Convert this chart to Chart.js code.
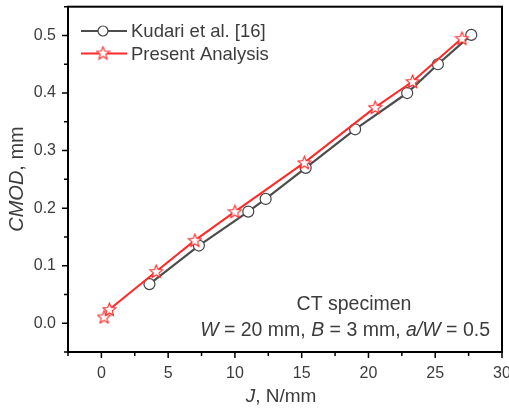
<!DOCTYPE html>
<html>
<head>
<meta charset="utf-8">
<script src="https://cdn.jsdelivr.net/npm/chart.js@4"></script>
<style>
  body{margin:0;background:#fff;}
  canvas{display:block;}
</style>
</head>
<body>
<canvas id="myChart" width="509" height="412"></canvas>
<script>
// data
const kudariJ    = [3.6, 7.3, 11.0, 12.3, 15.3, 19.0, 22.9, 25.2, 27.7];
const kudariCmod = [0.068, 0.135, 0.194, 0.216, 0.270, 0.337, 0.400, 0.450, 0.501];
const presentJ    = [0.2, 0.6, 4.1, 7.0, 10.0, 15.2, 20.5, 23.3, 27.0];
const presentCmod = [0.011, 0.024, 0.090, 0.144, 0.194, 0.279, 0.375, 0.420, 0.495];
const seriesNames = ["Kudari et al. [16]", "Present Analysis"];
const noteLine1 = "CT specimen";
const noteLine2 = [["W", true], [" = 20 mm, ", false], ["B", true], [" = 3 mm, ", false], ["a/W", true], [" = 0.5", false]];
const xTitle = [["J", true], [", N/mm", false]];
const yTitle = [["CMOD", true], [", mm", false]];

const txtCol = "#3c3c3c";
const fam = "'Liberation Sans', Arial, sans-serif";

// open star marker
const starImg = (()=>{
    var c=document.createElement('canvas');
    c.width=15; c.height=15;
    var g=c.getContext('2d');
    g.beginPath();
    for(var i=0;i<10;i++){
        var r=(i%2==0)?6.8:3.0;
        var a=-Math.PI/2+i*Math.PI/5;
        var px=7.5+r*Math.cos(a), py=8+r*Math.sin(a);
        if(i==0) g.moveTo(px,py); else g.lineTo(px,py);
    }
    g.closePath();
    g.fillStyle="#fff"; g.fill();
    g.strokeStyle="#ff2a2a"; g.lineWidth=1.1; g.stroke();
    return c;
})();

const toPts=(xs,ys)=>xs.map((x,i)=>({x:x,y:ys[i]}));

// mixed italic / normal text
const drawMixed=(ctx,parts,x,y,size,align)=>{
    var w=0;
    parts.forEach(p=>{ctx.font=(p[1]?"italic ":"")+size+"px "+fam; w+=ctx.measureText(p[0]).width;});
    var sx = align=="right" ? x-w : (align=="center" ? x-w/2 : x);
    parts.forEach(p=>{
        ctx.font=(p[1]?"italic ":"")+size+"px "+fam;
        ctx.fillText(p[0],sx,y);
        sx+=ctx.measureText(p[0]).width;
    });
};

const decor={
    id:'decor',
    afterDraw(chart){
        var ctx=chart.ctx, a=chart.chartArea;
        var xs=chart.scales.x, ys=chart.scales.y;
        ctx.save();
        // frame
        ctx.strokeStyle="#000"; ctx.lineWidth=2;
        ctx.strokeRect(a.left,a.top,a.right-a.left,a.bottom-a.top);
        // tick marks
        ctx.lineWidth=1.5;
        ctx.beginPath();
        xs.ticks.forEach(t=>{
            var px=xs.getPixelForValue(t.value);
            var major=Math.abs(t.value/5-Math.round(t.value/5))<1e-6;
            ctx.moveTo(px,a.bottom); ctx.lineTo(px,a.bottom+(major?6:4));
        });
        ys.ticks.forEach(t=>{
            var py=ys.getPixelForValue(t.value);
            var major=Math.abs(t.value*10-Math.round(t.value*10))<1e-6;
            ctx.moveTo(a.left,py); ctx.lineTo(a.left-(major?6:4),py);
        });
        ctx.stroke();
        // axis titles
        ctx.fillStyle=txtCol; ctx.textBaseline="middle";
        drawMixed(ctx,xTitle,281,397,19,"center");
        ctx.save();
        ctx.translate(17,179);
        ctx.rotate(-Math.PI/2);
        drawMixed(ctx,yTitle,0,0,20,"center");
        ctx.restore();
        // note
        ctx.font="19.5px "+fam; ctx.textAlign="center";
        ctx.fillText(noteLine1,354,305);
        ctx.textAlign="left";
        drawMixed(ctx,noteLine2,490,331,19.5,"right");
        // legend
        chart.data.datasets.forEach((ds,i)=>{
            var ly=31+i*22.5;
            ctx.strokeStyle=ds.borderColor; ctx.lineWidth=ds.borderWidth;
            ctx.beginPath(); ctx.moveTo(81,ly); ctx.lineTo(127,ly); ctx.stroke();
            if(ds.pointStyle=='circle'){
                ctx.beginPath(); ctx.arc(103,ly,5,0,Math.PI*2);
                ctx.fillStyle="#fff"; ctx.fill();
                ctx.strokeStyle=ds.pointBorderColor; ctx.lineWidth=1.2; ctx.stroke();
            } else {
                ctx.drawImage(starImg,103-7.5,ly-8);
            }
            ctx.fillStyle=txtCol; ctx.font="18.5px "+fam;
            ctx.fillText(ds.label,131,ly+1);
        });
        ctx.restore();
    }
};

var ctx=document.getElementById('myChart');
var chart=new Chart(ctx,{
    type:'scatter',
    data:{
        datasets:[{
            label:seriesNames[0],
            data:toPts(kudariJ,kudariCmod),
            showLine:true,
            borderColor:"#4d4d4d",
            borderWidth:2.2,
            pointStyle:'circle',
            pointRadius:5.5,
            pointBackgroundColor:"#fff",
            pointBorderColor:"#444",
            pointBorderWidth:1.2,
            order:1
        },{
            label:seriesNames[1],
            data:toPts(presentJ,presentCmod),
            showLine:true,
            borderColor:"#ff2a2a",
            borderWidth:2,
            pointStyle:starImg,
            order:0
        }]
    },
    options:{
        responsive:false,
        animation:false,
        devicePixelRatio:1,
        layout:{padding:{left:0,right:7,top:5,bottom:0}},
        plugins:{legend:{display:false},tooltip:{enabled:false}},
        scales:{
            x:{
                type:'linear',min:-2.5,max:30,
                grid:{display:false,drawTicks:true,tickLength:6},
                border:{display:false},
                ticks:{
                    stepSize:2.5,autoSkip:false,maxRotation:0,padding:6,
                    color:txtCol,font:{family:fam,size:16},
                    callback:(v)=>Math.abs(v/5-Math.round(v/5))<1e-6 ? String(Math.round(v)) : ''
                },
                afterFit:(s)=>{s.height=60; s.paddingLeft=0; s.paddingRight=0;}
            },
            y:{
                type:'linear',min:-0.05,max:0.55,
                grid:{display:false,drawTicks:true,tickLength:6},
                border:{display:false},
                ticks:{
                    stepSize:0.05,autoSkip:false,padding:6,
                    color:txtCol,font:{family:fam,size:16},
                    callback:(v)=>Math.abs(v*10-Math.round(v*10))<1e-6 ? (Math.round(v*10)/10).toFixed(1) : ''
                },
                afterFit:(s)=>{s.width=68; s.paddingTop=0; s.paddingBottom=0;}
            }
        }
    },
    plugins:[decor]
});
</script>
</body>
</html>
